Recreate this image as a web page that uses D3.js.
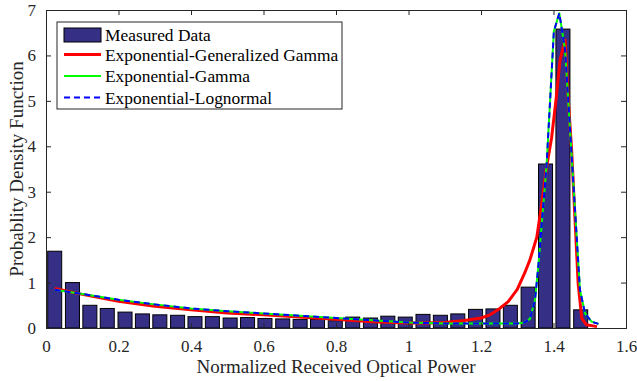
<!DOCTYPE html>
<html>
<head>
<meta charset="utf-8">
<script src="https://cdn.jsdelivr.net/npm/d3@7"></script>
<style>
  body { margin: 0; background: #fff; }
</style>
</head>
<body>
<div id="chart"></div>
<script>
// histogram bins (centres) and measured density
const binCenters = [0.024, 0.073, 0.121, 0.169, 0.218, 0.266, 0.314, 0.363, 0.411, 0.459,
    0.508, 0.556, 0.604, 0.653, 0.701, 0.749, 0.798, 0.846, 0.895, 0.943,
    0.991, 1.040, 1.088, 1.136, 1.185, 1.233, 1.281, 1.330, 1.378, 1.426, 1.475];
const measured = [1.69, 1.00, 0.50, 0.43, 0.35, 0.31, 0.29, 0.28, 0.25, 0.25,
    0.22, 0.23, 0.21, 0.20, 0.19, 0.19, 0.16, 0.24, 0.22, 0.26,
    0.24, 0.30, 0.28, 0.31, 0.41, 0.42, 0.50, 0.90, 3.61, 6.58, 0.40];
const binWidth = 0.04835;

// fitted curves
const ggX = [0.024, 0.1, 0.2, 0.3, 0.4, 0.5, 0.6, 0.7, 0.8, 0.9, 1.0, 1.05, 1.1, 1.15, 1.2,
    1.225, 1.25, 1.275, 1.3, 1.32, 1.335, 1.354, 1.367, 1.38, 1.395, 1.408, 1.418, 1.432,
    1.441, 1.45, 1.459, 1.468, 1.478, 1.491, 1.52];
const ggY = [0.87, 0.74, 0.59, 0.48, 0.40, 0.33, 0.29, 0.24, 0.19, 0.14, 0.11, 0.11, 0.12, 0.16, 0.22,
    0.29, 0.42, 0.58, 0.85, 1.2, 1.5, 2.0, 2.7, 3.5, 4.2, 5.1, 5.9, 6.34,
    5.0, 3.92, 2.45, 0.98, 0.21, 0.07, 0.03];

const gammaX = [0.024, 0.1, 0.2, 0.3, 0.4, 0.5, 0.6, 0.7, 0.8, 0.9, 1.0, 1.1, 1.2, 1.3, 1.32,
    1.335, 1.349, 1.358, 1.367, 1.381, 1.401, 1.416, 1.432, 1.45, 1.464, 1.473, 1.487, 1.505, 1.524];
const gammaY = [0.84, 0.75, 0.62, 0.52, 0.43, 0.37, 0.32, 0.27, 0.22, 0.17, 0.12, 0.10, 0.10, 0.10, 0.12,
    0.2, 0.62, 1.35, 2.23, 3.6, 6.53, 6.93, 6.12, 3.8, 2.0, 0.84, 0.32, 0.14, 0.09];

const lognX = gammaX;
const lognY = gammaY;

const xTicks = [0, 0.2, 0.4, 0.6, 0.8, 1, 1.2, 1.4, 1.6];
const yTicks = [0, 1, 2, 3, 4, 5, 6, 7];

const legendLabels = ["Measured Data", "Exponential-Generalized Gamma", "Exponential-Gamma", "Exponential-Lognormal"];

const W = 637, H = 381;
const margin = {top: 10, right: 11, bottom: 53, left: 46},
    width = W - margin.left - margin.right,
    height = H - margin.top - margin.bottom;

const serif = "Liberation Serif";

const svg = d3.select("#chart")
    .append("svg")
    .attr("width", W)
    .attr("height", H)
    .attr("font-family", serif)
    .append("g")
    .attr("transform", "translate(" + margin.left + "," + margin.top + ")");

const x = d3.scaleLinear().domain([0, 1.6]).range([0, width]);
const y = d3.scaleLinear().domain([0, 7]).range([height, 0]);

const axisColor = "#262626";

// bars
svg.selectAll("rect.bar")
    .data(binCenters.map((c, i) => ({c: c, v: measured[i]})))
    .enter().append("rect")
    .attr("class", "bar")
    .attr("x", d => x(d.c - binWidth * 0.4))
    .attr("y", d => y(d.v))
    .attr("width", d => x(binWidth * 0.8) - x(0))
    .attr("height", d => y(0) - y(d.v))
    .style("fill", "#352f85")
    .style("stroke", "#000")
    .style("stroke-width", 1);

function drawCurve(xs, ys, color, w, dash) {
    const line = d3.line().x(d => x(d[0])).y(d => y(d[1]));
    svg.append("path")
        .datum(xs.map((v, i) => [v, ys[i]]))
        .attr("d", line)
        .style("fill", "none")
        .style("stroke", color)
        .style("stroke-width", w)
        .style("stroke-linejoin", "round")
        .style("stroke-dasharray", dash || null);
}

drawCurve(ggX, ggY, "#ff0000", 3);
drawCurve(gammaX, gammaY, "#00ff00", 2);
drawCurve(lognX, lognY, "#0000ff", 2, "6,4");

// axes with inward ticks, box on
const xAxis = svg.append("g")
    .attr("transform", "translate(0," + height + ")")
    .call(d3.axisBottom(x).tickValues(xTicks).tickSize(-5).tickPadding(12).tickFormat(d3.format("")));
const xTop = svg.append("g")
    .call(d3.axisTop(x).tickValues(xTicks).tickSize(-5).tickFormat(""));
const yAxis = svg.append("g")
    .call(d3.axisLeft(y).tickValues(yTicks).tickSize(-5).tickPadding(10).tickFormat(d3.format("")));
const yRight = svg.append("g")
    .attr("transform", "translate(" + width + ",0)")
    .call(d3.axisRight(y).tickValues(yTicks).tickSize(-5).tickFormat(""));

[xAxis, xTop, yAxis, yRight].forEach(g => {
    g.attr("font-family", serif).attr("font-size", 17);
    g.selectAll("path").attr("stroke", axisColor).attr("stroke-width", 1);
    g.selectAll("line").attr("stroke", axisColor).attr("stroke-width", 1);
    g.selectAll("text").attr("fill", axisColor).attr("font-family", serif);
});

// axis labels
svg.append("text")
    .attr("x", width / 2)
    .attr("y", height + 45)
    .attr("text-anchor", "middle")
    .attr("font-size", 19)
    .attr("font-family", serif)
    .attr("fill", axisColor)
    .text("Normalized Received Optical Power");

svg.append("text")
    .attr("transform", "translate(" + (-23) + "," + (height / 2) + ") rotate(-90)")
    .attr("text-anchor", "middle")
    .attr("font-size", 19)
    .attr("font-family", serif)
    .attr("fill", axisColor)
    .text("Probablity Density Function");

// legend
const lg = svg.append("g").attr("transform", "translate(11,12)");
lg.append("rect")
    .attr("width", 285)
    .attr("height", 87)
    .style("fill", "#fff")
    .style("stroke", axisColor)
    .style("stroke-width", 1);

const rowY = [13, 32.5, 54, 75.5];
lg.append("rect")
    .attr("x", 7).attr("y", rowY[0] - 7)
    .attr("width", 37).attr("height", 14)
    .style("fill", "#352f85").style("stroke", "#000");
[["#ff0000", 3, null], ["#00ff00", 2, null], ["#0000ff", 2, "6,4"]].forEach((s, i) => {
    lg.append("line")
        .attr("x1", 7).attr("x2", 44)
        .attr("y1", rowY[i + 1]).attr("y2", rowY[i + 1])
        .style("stroke", s[0]).style("stroke-width", s[1])
        .style("stroke-dasharray", s[2]);
});
lg.selectAll("text.lab")
    .data(legendLabels)
    .enter().append("text")
    .attr("class", "lab")
    .attr("x", 48)
    .attr("y", (d, i) => rowY[i])
    .attr("dy", "0.35em")
    .attr("font-size", 17.4)
    .attr("font-family", serif)
    .attr("fill", "#000")
    .text(d => d);
</script>
</body>
</html>
